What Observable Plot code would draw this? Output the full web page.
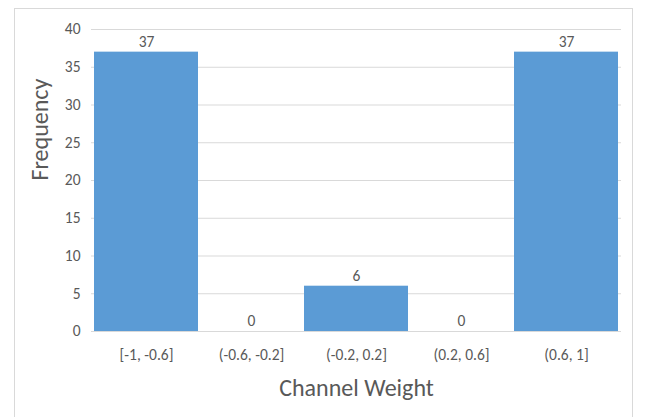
<!DOCTYPE html>
<html>
<head>
<meta charset="utf-8">
<script src="https://cdn.jsdelivr.net/npm/d3@7"></script>
<script src="https://cdn.jsdelivr.net/npm/@observablehq/plot@0.6"></script>
<style>
  html, body { margin: 0; padding: 0; background: #fff; }
  #wrap { position: relative; width: 648px; height: 417px; overflow: hidden; }
  #border { position: absolute; left: 14px; top: 8px; width: 619px; height: 430px;
            border: 1px solid #d9d9d9; box-sizing: border-box; }
  #chart { position: absolute; left: 0; top: 0; }
</style>
</head>
<body>
<div id="wrap"><div id="border"></div><div id="chart"></div></div>
<script>
// Histogram of channel weights
const bins = ["[-1, -0.6]", "(-0.6, -0.2]", "(-0.2, 0.2]", "(0.2, 0.6]", "(0.6, 1]"];
const counts = [37, 0, 6, 0, 37];
const yTicks = [0, 5, 10, 15, 20, 25, 30, 35, 40];

const data = bins.map((bin, i) => ({bin, count: counts[i]}));

const font = "Carlito, 'Liberation Sans Narrow', 'Open Sans', sans-serif";
const gray = "#595959";

const plot = Plot.plot({
  width: 648,
  height: 417,
  marginLeft: 91,
  marginRight: 27,
  marginTop: 29,
  marginBottom: 86,
  style: {fontFamily: font, fontSize: "15.5px", color: gray, background: "transparent"},
  x: {domain: bins, padding: 0.01, label: null},
  y: {domain: [0, 40], ticks: yTicks, label: null},
  marks: [
    Plot.gridY(yTicks, {stroke: "#d9d9d9", strokeOpacity: 1, strokeWidth: 1}),
    Plot.barY(data, {x: "bin", y: "count", fill: "#5b9bd5"}),
    Plot.ruleY([0], {stroke: "#d9d9d9", strokeWidth: 1}),
    Plot.text(data, {x: "bin", y: "count", text: d => String(d.count), dy: -10,
      fill: gray, fontSize: 15.5}),
    Plot.axisY(yTicks, {tickSize: 0, tickPadding: 11, fontSize: 15.5, fill: gray, label: null}),
    Plot.axisX({tickSize: 0, tickPadding: 17, fontSize: 15.5, fill: gray, label: null}),
    Plot.text(["Channel Weight"], {frameAnchor: "bottom", dy: 64, fill: gray, fontSize: 24}),
    Plot.text(["Frequency"], {frameAnchor: "left", dx: -51, rotate: -90, fill: gray, fontSize: 24})
  ]
});
document.getElementById("chart").appendChild(plot);
</script>
</body>
</html>
